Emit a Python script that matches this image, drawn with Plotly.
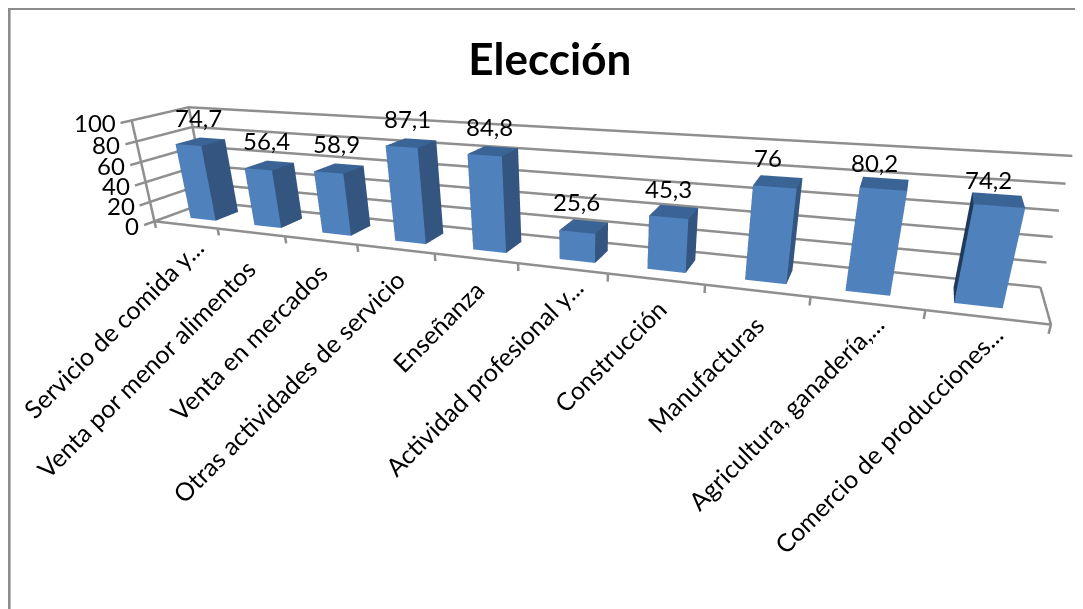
import plotly.graph_objects as go

categorias = ["Servicio de comida y...", "Venta por menor alimentos", "Venta en mercados",
              "Otras actividades de servicio", "Enseñanza", "Actividad profesional y...",
              "Construcción", "Manufacturas", "Agricultura, ganadería,...",
              "Comercio de producciones..."]
valores = [74.7, 56.4, 58.9, 87.1, 84.8, 25.6, 45.3, 76, 80.2, 74.2]
etiquetas = ["74,7", "56,4", "58,9", "87,1", "84,8", "25,6", "45,3", "76", "80,2", "74,2"]
ticks_z = [0, 20, 40, 60, 80, 100]

FONT = "Lato"
GRID = "#8f8f8f"
FRONT, SIDE, TOP, LEFT = "#4f81bd", "#33557f", "#3a6496", "#1f3a5c"
n = len(valores)
W, H = 1075, 720

# small layout nudges (pixels / category fractions), not data
inset = [0.34, 0.34, 0.34, 0.34, 0.34, 0.37, 0.34, 0.34, 0.29, 0.24]
val_dx = [1, -0.6, 0.8, -0.8, -0.4, -1, -1.6, -6, -10.8, -17.4]
val_dy = [8, 8, 8, 8, 8, 8, 6, 7, 5, 4]
cat_dx = [25, 12.5, 14, 17.5, 16.5, 29, 19.5, 16, 27, 26.5]
cat_dy = [2, -10.6, -7.2, -4.8, -5.9, 6.5, -4.6, -8.2, 6.7, 9.6]

xs, ys, zs, i_, j_, k_, fc = [], [], [], [], [], [], []
for b, v in enumerate(valores):
    x0, x1, y0, y1 = b + inset[b], b + inset[b] + 0.40, 0.28, 0.72
    s = len(xs)
    for (a, c, d) in [(x0, y0, 0), (x1, y0, 0), (x1, y1, 0), (x0, y1, 0),
                      (x0, y0, v), (x1, y0, v), (x1, y1, v), (x0, y1, v)]:
        xs.append(a); ys.append(c); zs.append(d)
    for (q, col) in [((0, 1, 5, 4), FRONT), ((1, 2, 6, 5), SIDE), ((3, 0, 4, 7), LEFT), ((4, 5, 6, 7), TOP)]:
        i_ += [s + q[0], s + q[0]]; j_ += [s + q[1], s + q[2]]; k_ += [s + q[2], s + q[3]]
        fc += [col, col]

fig = go.Figure()
fig.add_trace(go.Mesh3d(x=xs, y=ys, z=zs, i=i_, j=j_, k=k_, facecolor=fc, flatshading=True,
                        lighting=dict(ambient=1, diffuse=0, specular=0, fresnel=0, roughness=1),
                        hoverinfo="skip", showscale=False))

def seg(*pts):
    fig.add_trace(go.Scatter3d(x=[p[0] for p in pts], y=[p[1] for p in pts], z=[p[2] for p in pts],
                               mode="lines", line=dict(color=GRID, width=5),
                               hoverinfo="skip", showlegend=False))

for t in ticks_z:
    seg((0, -0.18, t), (0, 1, t), (n, 1, t))
seg((0, 0, 0), (0, 0, 100))
seg((0, 1, 0), (0, 1, 100))
seg((0, 0, 0), (n, 0, 0), (n, 1, 0))
for b in range(n + 1):
    seg((b, 0, 0), (b, 0, -7))

ann = []
for t in ticks_z:
    ann.append(dict(x=0, y=-0.18, z=t, text=str(t), showarrow=False, xanchor="right", yanchor="middle",
                    xshift=-3, font=dict(family=FONT, size=24, color="black")))
for b, e in enumerate(etiquetas):
    ann.append(dict(x=b + 0.5, y=0.5, z=valores[b], text=e, showarrow=False, xanchor="center", yanchor="bottom",
                    xshift=val_dx[b], yshift=val_dy[b], font=dict(family=FONT, size=24, color="black")))
for b, c in enumerate(categorias):
    ann.append(dict(x=b + 0.5, y=0, z=-7, text=c, showarrow=False, textangle=-45, xanchor="right", yanchor="top",
                    xshift=cat_dx[b], yshift=cat_dy[b], font=dict(family=FONT, size=25, color="black")))

hide = dict(visible=False, showgrid=False, zeroline=False, showline=False, showticklabels=False,
            showbackground=False, showspikes=False, autorange=False)
fig.update_layout(
    width=W, height=H, margin=dict(l=0, r=0, t=0, b=0),
    paper_bgcolor="white", showlegend=False,
    title=dict(text="<b>Elección</b>", x=0.504, xanchor="center", y=0.928, yanchor="middle",
               font=dict(family=FONT, size=44, color="black")),
    scene=dict(
        domain=dict(x=[0, 1], y=[0, 1]),
        xaxis=dict(range=[-0.02, n + 0.02], **hide),
        yaxis=dict(range=[-0.2, 1.01], **hide),
        zaxis=dict(range=[-8, 101], **hide),
        aspectmode="manual", aspectratio=dict(x=1.004, y=0.115, z=0.1352),
        camera=dict(eye=dict(x=0.3629, y=-0.8358, z=0.2456),
                    center=dict(x=0.0503, y=-0.0902, z=-0.1491),
                    up=dict(x=-0.1473, y=0.4137, z=0.8983),
                    projection=dict(type="perspective")),
        annotations=ann,
    ),
    shapes=[dict(type="rect", xref="paper", yref="paper", x0=0.001, x1=1.02, y0=-0.02, y1=0.9992,
                 line=dict(color="#8c8c8c", width=3))],
)
fig.write_html("out.html")
